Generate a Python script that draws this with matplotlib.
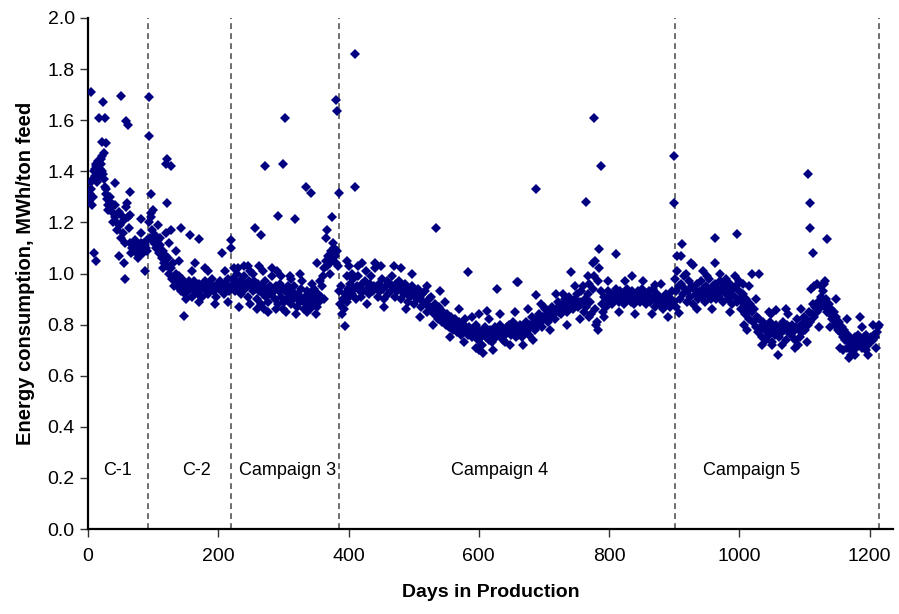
import matplotlib.pyplot as plt
import numpy as np

plt.rcParams['font.family'] = ['Liberation Sans', 'DejaVu Sans']

# daily energy consumption (MWh/ton feed), sampled every second day per campaign
c1_days = np.arange(1, 92, 2)
c1_energy = [1.29, 1.31, 1.36, 1.30, 1.40, 1.38, 1.42, 1.40, 1.44, 1.41,
             1.46, 1.39, 1.37, 1.33, 1.29, 1.27, 1.30, 1.26, 1.24, 1.27,
             1.22, 1.20, 1.17, 1.24, 1.19, 1.14, 1.16, 1.21, 1.12, 1.26,
             1.22, 1.18, 1.12, 1.10, 1.11, 1.09, 1.12, 1.10, 1.11, 1.08,
             1.12, 1.10, 1.09, 1.11, 1.10, 1.13]

c2_days = np.arange(93, 220, 2)
c2_energy = [1.20, 1.14, 1.22, 1.17, 1.12, 1.15, 1.10, 1.13, 1.08, 1.11,
             1.06, 1.09, 1.04, 1.07, 1.03, 1.06, 1.00, 1.02, 0.98, 1.04,
             0.97, 1.00, 0.95, 0.99, 0.96, 0.93, 0.98, 0.94, 0.92, 0.96,
             0.93, 0.97, 0.95, 0.91, 0.94, 0.97, 0.93, 0.95, 0.92, 0.96,
             0.94, 0.91, 0.95, 0.97, 0.93, 0.95, 0.92, 0.96, 0.94, 0.98,
             0.93, 0.95, 0.91, 0.96, 0.94, 0.97, 0.93, 0.95, 0.92, 0.96,
             0.94, 0.98, 0.93, 0.95]

c3_days = np.arange(221, 384, 2)
c3_energy = [0.95, 0.98, 0.93, 0.96, 1.00, 0.94, 0.97, 0.92, 0.95, 0.99,
             0.94, 0.96, 0.91, 0.97, 1.01, 0.95, 0.93, 0.97, 0.94, 0.90,
             0.96, 0.93, 0.88, 0.95, 0.92, 0.97, 0.91, 0.94, 0.89, 0.95,
             0.92, 0.99, 0.93, 0.90, 0.95, 0.88, 0.93, 0.96, 0.91, 0.94,
             0.89, 0.93, 0.90, 0.95, 0.92, 0.88, 0.93, 0.90, 0.95, 0.91,
             0.87, 0.92, 0.89, 0.94, 0.90, 0.86, 0.91, 0.88, 0.93, 0.90,
             0.86, 0.92, 0.89, 0.94, 0.90, 0.87, 0.92, 0.89, 0.91, 0.95,
             0.99, 1.02, 1.05, 1.03, 1.07, 1.04, 1.09, 1.06, 1.10, 1.07,
             1.04, 1.09]

c4_days = np.arange(385, 900, 2)
c4_energy = [0.93, 0.88, 0.95, 0.90, 0.86, 0.92, 0.89, 0.94, 0.91, 0.96,
             0.92, 0.98, 0.94, 0.90, 0.95, 0.99, 0.93, 0.91, 0.96, 0.93,
             0.97, 1.01, 0.94, 0.92, 0.96, 0.99, 0.93, 0.95, 1.02, 0.94,
             0.91, 0.96, 0.93, 0.98, 0.94, 0.90, 0.95, 0.97, 0.92, 0.96,
             0.93, 0.99, 0.95, 0.91, 0.96, 0.93, 0.97, 0.94, 0.90, 0.95,
             0.92, 0.96, 0.93, 0.89, 0.94, 0.91, 0.95, 0.92, 0.88, 0.93,
             0.90, 0.94, 0.91, 0.87, 0.92, 0.89, 0.93, 0.88, 0.85, 0.90,
             0.87, 0.91, 0.86, 0.84, 0.88, 0.85, 0.82, 0.87, 0.84, 0.81,
             0.85, 0.83, 0.80, 0.84, 0.82, 0.79, 0.83, 0.81, 0.78, 0.82,
             0.80, 0.77, 0.81, 0.79, 0.76, 0.80, 0.78, 0.82, 0.79, 0.76,
             0.79, 0.77, 0.75, 0.78, 0.76, 0.80, 0.77, 0.74, 0.78, 0.75,
             0.72, 0.76, 0.79, 0.75, 0.77, 0.74, 0.78, 0.76, 0.73, 0.77,
             0.79, 0.75, 0.78, 0.76, 0.80, 0.77, 0.74, 0.78, 0.76, 0.79,
             0.77, 0.80, 0.76, 0.79, 0.81, 0.77, 0.75, 0.79, 0.76, 0.80,
             0.78, 0.75, 0.79, 0.77, 0.81, 0.78, 0.76, 0.80, 0.83, 0.79,
             0.81, 0.78, 0.82, 0.80, 0.84, 0.81, 0.79, 0.83, 0.86, 0.82,
             0.84, 0.81, 0.85, 0.83, 0.87, 0.84, 0.82, 0.86, 0.89, 0.85,
             0.87, 0.84, 0.88, 0.86, 0.90, 0.85, 0.88, 0.91, 0.87, 0.89,
             0.86, 0.90, 0.88, 0.92, 0.87, 0.89, 0.93, 0.88, 0.85, 0.90,
             0.87, 0.92, 0.96, 0.89, 0.84, 0.94, 0.99, 0.86, 0.81, 0.97,
             1.02, 0.93, 0.88, 0.85, 0.91, 0.87, 0.90, 0.93, 0.89, 0.91,
             0.88, 0.92, 0.90, 0.94, 0.91, 0.89, 0.93, 0.90, 0.92, 0.88,
             0.91, 0.94, 0.90, 0.92, 0.89, 0.93, 0.91, 0.88, 0.92, 0.90,
             0.93, 0.89, 0.91, 0.94, 0.90, 0.92, 0.88, 0.91, 0.93, 0.89,
             0.91, 0.94, 0.90, 0.87, 0.92, 0.89, 0.91, 0.88, 0.90, 0.86,
             0.89, 0.92, 0.88, 0.91, 0.87, 0.90, 0.93, 0.89]

c5_days = np.arange(901, 1214, 2)
c5_energy = [0.98, 0.93, 1.01, 0.95, 0.90, 0.96, 0.92, 0.99, 0.94, 0.89,
             0.93, 0.97, 0.91, 0.95, 0.88, 0.94, 0.92, 0.96, 0.90, 0.93,
             0.97, 0.91, 0.94, 0.89, 0.95, 0.92, 0.98, 0.93, 0.90, 0.95,
             0.92, 0.96, 0.90, 0.94, 0.91, 0.97, 0.93, 0.89, 0.95, 0.92,
             0.94, 0.90, 0.96, 0.92, 0.88, 0.94, 0.91, 0.95, 0.89, 0.93,
             0.90, 0.86, 0.92, 0.88, 0.84, 0.90, 0.86, 0.82, 0.88, 0.85,
             0.81, 0.86, 0.79, 0.83, 0.77, 0.82, 0.79, 0.75, 0.81, 0.78,
             0.74, 0.79, 0.76, 0.81, 0.77, 0.73, 0.79, 0.76, 0.80, 0.78,
             0.75, 0.79, 0.77, 0.81, 0.78, 0.74, 0.80, 0.77, 0.79, 0.76,
             0.80, 0.77, 0.74, 0.79, 0.82, 0.78, 0.75, 0.80, 0.77, 0.81,
             0.78, 0.82, 0.80, 0.85, 0.81, 0.84, 0.88, 0.83, 0.87, 0.85,
             0.89, 0.86, 0.91, 0.88, 0.93, 0.87, 0.90, 0.85, 0.88, 0.84,
             0.86, 0.82, 0.85, 0.80, 0.83, 0.78, 0.81, 0.77, 0.79, 0.75,
             0.78, 0.74, 0.71, 0.76, 0.73, 0.70, 0.74, 0.72, 0.75, 0.71,
             0.73, 0.76, 0.72, 0.74, 0.71, 0.75, 0.73, 0.76, 0.72, 0.74,
             0.73, 0.75, 0.74, 0.76, 0.75, 0.77, 0.79]

# remaining days, including the high and low excursions
extra_days = [2, 4, 6, 8, 10, 12, 14, 18, 20, 22, 26, 28, 30, 34, 38, 42, 50,
              66, 70, 72, 74, 76, 78, 82, 84, 86, 90,
              4, 23, 50, 94, 17, 26, 59, 61, 94, 22, 27, 25, 42, 65, 60, 65,
              81, 81, 96, 96, 9, 13, 47, 56, 57, 88, 4, 15, 20,
              119, 122, 128, 122, 119, 128, 143, 156, 171, 147, 206, 219,
              219, 135, 110, 180, 165,
              381, 383, 302, 271, 300, 334, 342, 386, 292, 318, 375, 256,
              266, 367, 365, 352, 230, 245, 262, 290, 310, 325, 270, 300,
              340, 376, 384, 372,
              410, 410, 535, 584, 607, 613, 628, 659, 661, 688, 688, 741,
              765, 777, 787, 785, 780, 811, 835, 871, 900, 900, 395, 775,
              779, 783, 770, 450, 480, 540, 600, 640, 700, 730, 760, 600,
              420, 397, 400, 405,
              912, 905, 910, 926, 929, 962, 996, 962, 1020, 1030, 1106,
              1108, 1108, 1135, 1113, 1132, 1125, 1060, 1168, 1185, 1007,
              1056, 908, 1050, 1090, 1160, 1172, 1194, 1214, 1110, 1120,
              950, 980, 1000, 1015, 1045, 1075, 1100]
extra_energy = [1.28, 1.33, 1.27, 1.37, 1.41, 1.43, 1.36, 1.38, 1.43, 1.40,
                1.34, 1.31, 1.25, 1.28, 1.20, 1.27, 1.23,
                1.08, 1.12, 1.13, 1.09, 1.06, 1.07, 1.11, 1.08, 1.12, 1.09,
                1.71, 1.67, 1.695, 1.69, 1.61, 1.61, 1.595, 1.58, 1.54,
                1.515, 1.51, 1.47, 1.355, 1.32, 1.275, 1.23,
                1.215, 1.16, 1.31, 1.235, 1.08, 1.05, 1.07, 1.04, 0.98, 1.01,
                1.30, 1.44, 1.45,
                1.43, 1.45, 1.42, 1.275, 1.16, 1.17, 1.18, 1.15, 1.135, 0.835,
                1.08, 1.13, 1.10, 1.09, 1.14, 1.02, 1.04,
                1.68, 1.635, 1.61, 1.42, 1.43, 1.34, 1.315, 1.315, 1.225,
                1.215, 1.22, 1.18, 1.15, 1.17, 1.14, 1.04, 1.02, 1.03, 1.03,
                1.01, 0.99, 1.00, 0.86, 0.86, 0.87, 1.12, 1.03, 1.00,
                1.86, 1.34, 1.18, 1.005, 0.69, 0.855, 0.94, 0.965, 0.965,
                0.915, 1.33, 1.005, 1.28, 1.61, 1.42, 1.095, 0.80, 1.075,
                0.99, 0.955, 1.46, 1.275, 0.795, 1.04, 1.05, 0.78, 0.83,
                1.03, 1.02, 0.93, 0.84, 0.73, 0.87, 0.92, 0.95, 0.70,
                1.04, 1.05, 1.03, 1.00,
                1.115, 1.07, 1.07, 1.04, 1.035, 1.14, 1.155, 1.04, 1.00, 1.00,
                1.39, 1.275, 1.18, 1.135, 1.08, 0.97, 0.95, 0.68, 0.67, 0.83,
                0.80, 0.857, 0.845, 0.72, 0.72, 0.70, 0.68, 0.70, 0.80, 0.94,
                0.96, 0.99, 0.98, 0.97, 0.95, 0.85, 0.84, 0.83]

# days at the upper and lower edge of the daily scatter
spread_days = [100, 108, 115, 125, 132, 140, 150, 160, 170, 185, 195, 210, 215,
               224, 232, 240, 248, 254, 260, 268, 276, 282, 288, 296, 304,
               312, 320, 328, 336, 344, 350, 356, 362,
               390, 398, 415, 428, 440, 455, 470, 488, 498, 510, 520, 530,
               548, 556, 570, 578, 590, 596, 615, 622, 632, 648, 655, 668,
               676, 684, 695, 710, 718, 735, 748, 755, 768, 792, 798, 815,
               825, 840, 852, 866, 880, 890,
               903, 918, 935, 945, 958, 970, 985, 993, 1005, 1012, 1025,
               1035, 1048, 1065, 1072, 1085, 1095, 1104, 1115, 1122, 1130,
               1140, 1148, 1155, 1165, 1178, 1188, 1198, 1206, 1210]
spread_energy = [1.25, 1.19, 1.02, 1.12, 0.95, 1.05, 0.90, 1.01, 0.89, 1.01,
                 0.88, 1.01, 0.89,
                 1.02, 0.87, 1.03, 0.88, 1.00, 0.86, 1.01, 0.85, 1.02, 0.86,
                 0.99, 0.85, 0.98, 0.84, 0.97, 0.85, 0.96, 0.84, 0.97, 0.90,
                 0.84, 0.99, 1.03, 0.88, 1.04, 0.87, 1.03, 0.86, 1.00, 0.83,
                 0.95, 0.80, 0.89, 0.75, 0.86, 0.73, 0.83, 0.71, 0.82, 0.70,
                 0.84, 0.72, 0.85, 0.72, 0.86, 0.74, 0.88, 0.78, 0.92, 0.80,
                 0.95, 0.82, 0.99, 0.83, 0.97, 0.85, 0.97, 0.84, 0.97, 0.84,
                 0.96, 0.83,
                 0.87, 1.00, 0.86, 1.01, 0.86, 1.00, 0.85, 0.99, 0.96, 0.78,
                 0.90, 0.72, 0.84, 0.72, 0.86, 0.71, 0.86, 0.73, 0.95, 0.79,
                 0.96, 0.79, 0.90, 0.71, 0.82, 0.68, 0.79, 0.68, 0.80, 0.71]

campaign_ends = [92, 220, 385, 901, 1214]
campaign_names = ['C-1', 'C-2', 'Campaign 3', 'Campaign 4', 'Campaign 5']
name_x = [46, 167, 307, 632, 1019]

days = np.concatenate([c1_days, c2_days, c3_days, c4_days, c5_days,
                       extra_days, spread_days])
energy = np.concatenate([c1_energy, c2_energy, c3_energy, c4_energy,
                         c5_energy, extra_energy, spread_energy])

fig = plt.figure(figsize=(8.99, 6.14), dpi=100)
ax = fig.add_axes([0.0979, 0.1384, 0.8954, 0.8323])

for d in campaign_ends:
    ax.axvline(d, color='#555555', lw=1.2, linestyle=(0, (3.5, 2.5)), zorder=1)

ax.plot(days, energy, linestyle='none', marker='D', markersize=5.0,
        color='#000080', markeredgewidth=0, zorder=3)

for name, x in zip(campaign_names, name_x):
    ax.text(x, 0.23, name, ha='center', va='center', fontsize=13)

ax.set_xlim(0, 1236)
ax.set_ylim(0, 2.0)
ax.set_xticks(np.arange(0, 1201, 200))
ax.set_yticks(np.arange(0, 2.01, 0.2))
ax.yaxis.set_major_formatter(plt.FormatStrFormatter('%.1f'))
ax.tick_params(direction='out', length=6, width=1, labelsize=14, color='#333333')
ax.tick_params(axis='x', pad=8)

for side in ['top', 'right']:
    ax.spines[side].set_visible(False)
for side in ['left', 'bottom']:
    ax.spines[side].set_linewidth(1.6)

ax.set_xlabel('Days in Production', fontsize=14, fontweight='bold', labelpad=13)
ax.set_ylabel('Energy consumption, MWh/ton feed', fontsize=14.5, fontweight='bold', labelpad=9)

plt.savefig('out.png', dpi=100)
